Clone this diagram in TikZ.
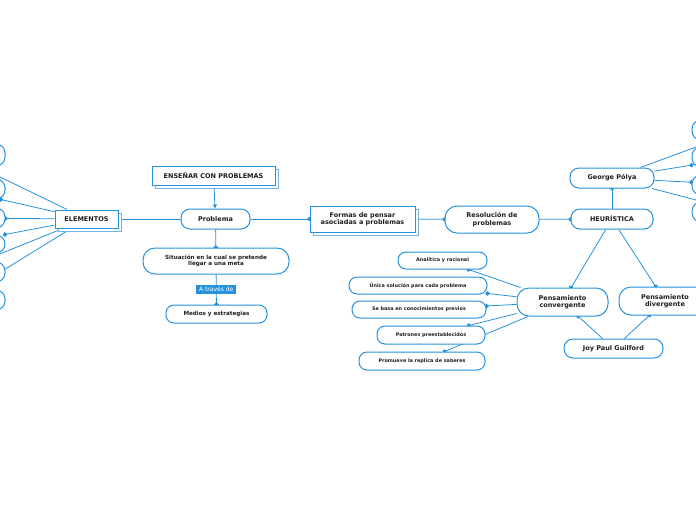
\documentclass[tikz,border=0pt]{standalone}
\usepackage{fontspec}
\setmainfont{DejaVu Sans}
\usetikzlibrary{arrows.meta, shadows, backgrounds}
\definecolor{mapblue}{RGB}{38,146,220}
\definecolor{shadeblue}{RGB}{110,180,235}
\definecolor{inkdark}{RGB}{30,30,30}
\tikzset{
  topic/.style={draw=mapblue, line width=1pt, fill=white, rounded corners=9pt,
    font=\fontsize{6.5}{7.5}\selectfont\bfseries, text=inkdark, align=center, inner sep=1pt},
  wide/.style={topic, rounded corners=12pt},
  detail/.style={topic, font=\fontsize{5.6}{6.4}\selectfont\bfseries},
  leaf/.style={topic, rounded corners=8pt, font=\fontsize{4.9}{5.6}\selectfont\bfseries},
  mainbox/.style={draw=mapblue, line width=1pt, fill=white, text=inkdark, align=center,
    font=\fontsize{6.5}{7.5}\selectfont\bfseries, inner sep=1pt,
    general shadow={shadow xshift=3pt, shadow yshift=-3pt, fill=white, draw=shadeblue, line width=1pt}},
  link/.style={draw=mapblue, line width=0.8pt, -{Circle[length=4.5pt]}, shorten >=-2.25pt},
  tag/.style={fill=mapblue, text=white, font=\fontsize{6}{7}\selectfont, inner xsep=3pt, inner ysep=2.5pt}
}

\begin{document}
\begin{tikzpicture}[x=1pt, y=-1pt]
  \useasboundingbox (0,0) rectangle (696,520);
  \clip (0,0) rectangle (696,520);
  \node[mainbox, minimum width=123pt, minimum height=19pt] (ensenar) at (213.5,175.5) {ENSEÑAR CON PROBLEMAS};
  \node[mainbox, minimum width=63pt, minimum height=18pt] (elementos) at (86.5,219) {ELEMENTOS};
  \node[topic, minimum width=69pt, minimum height=20pt] (problema) at (215.5,219) {Problema};
  \node[detail, minimum width=146pt, minimum height=26pt, rounded corners=12pt] (situacion) at (216,261) {Situación en la cual se pretende\\llegar a una meta};
  \node[detail, minimum width=101pt, minimum height=18pt, rounded corners=8pt] (medios) at (216.5,314) {Medios y estrategias};
  \node[mainbox, minimum width=105pt, minimum height=26pt] (formas) at (362.5,219) {Formas de pensar\\asociadas a problemas};
  \node[wide, minimum width=94pt, minimum height=27pt] (resolucion) at (492,219.5) {Resolución de\\problemas};
  \node[topic, minimum width=82pt, minimum height=20pt] (heuristica) at (612,219) {HEURÍSTICA};
  \node[topic, minimum width=84pt, minimum height=20pt] (polya) at (612,178) {George Pólya};
  \node[wide, minimum width=91pt, minimum height=28pt] (convergente) at (562.5,302) {Pensamiento\\convergente};
  \node[wide, minimum width=92pt, minimum height=28pt] (divergente) at (665,301) {Pensamiento\\divergente};
  \node[topic, minimum width=99pt, minimum height=19pt] (guilford) at (613.5,348.5) {Joy Paul Guilford};
  \node[leaf, minimum width=89pt, minimum height=17pt] (analitica) at (442.5,260.5) {Analítica y racional};
  \node[leaf, minimum width=138pt, minimum height=17pt] (unica) at (418,285.5) {Única solución para cada problema};
  \node[leaf, minimum width=134pt, minimum height=17pt] (sebasa) at (419,309.5) {Se basa en conocimientos previos};
  \node[leaf, minimum width=108pt, minimum height=18pt] (patrones) at (431,335) {Patrones preestablecidos};
  \node[leaf, minimum width=126pt, minimum height=18pt] (promueve) at (422,361) {Promueve la replica de saberes};
  \node[topic, minimum width=100pt, minimum height=22pt] (izq1) at (-45,155) {};
  \node[topic, minimum width=100pt, minimum height=20pt] (izq2) at (-45,189) {};
  \node[topic, minimum width=100pt, minimum height=20pt] (izq3) at (-45,218) {};
  \node[topic, minimum width=100pt, minimum height=18pt] (izq4) at (-45,244) {};
  \node[topic, minimum width=100pt, minimum height=20pt] (izq5) at (-45,272) {};
  \node[topic, minimum width=100pt, minimum height=20pt] (izq6) at (-45,300) {};
  \node[topic, minimum width=100pt, minimum height=20pt] (der1) at (742,130) {};
  \node[topic, minimum width=100pt, minimum height=20pt] (der2) at (742,157) {};
  \node[topic, minimum width=100pt, minimum height=20pt] (der3) at (742,185) {};
  \node[topic, minimum width=100pt, minimum height=20pt] (der4) at (742,212) {};
  \begin{pgfonlayer}{background}
    \draw[draw=mapblue, line width=0.8pt, -{Triangle[length=4pt, width=4pt]}] (ensenar) -- (problema);
    \draw[link] (problema) -- (elementos);
    \draw[link] (problema) -- (situacion);
    \draw[link] (situacion) -- node[tag] (atraves) {A través de} (medios);
    \draw[link] (problema) -- (formas);
    \draw[link] (formas) -- (resolucion);
    \draw[link] (resolucion) -- (heuristica);
    \draw[link] (heuristica) -- (polya);
    \draw[link] (heuristica) -- (convergente);
    \draw[link] (heuristica) -- (divergente);
    \draw[link] (guilford) -- (convergente);
    \draw[link] (guilford) -- (divergente);
    \foreach \leafname in {analitica, unica, sebasa, patrones, promueve}
      \draw[link] (convergente) -- (\leafname);
    \foreach \k in {1,...,6}
      \draw[link] (elementos) -- (izq\k);
    \foreach \k in {1,...,4}
      \draw[link] (polya) -- (der\k);
  \end{pgfonlayer}
\end{tikzpicture}
\end{document}
